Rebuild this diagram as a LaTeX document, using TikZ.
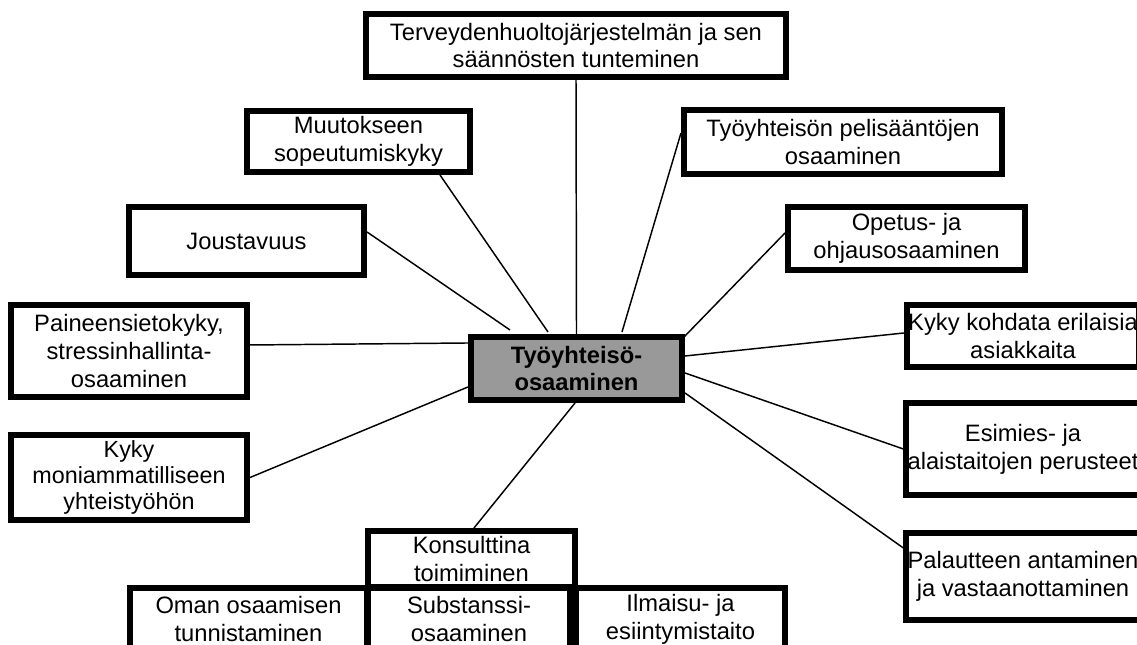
\documentclass[tikz,border=0pt]{standalone}
\usepackage{fontspec}
\setmainfont{Liberation Sans}
\usetikzlibrary{calc}
\definecolor{boxgray}{RGB}{153,153,153}
\begin{document}
\begin{tikzpicture}[x=0.75pt,y=-0.75pt,
  box/.style={draw, line width=4.3pt, fill=white, align=center, inner sep=1pt,
    font=\fontsize{17.8}{20.8}\selectfont},
  tight/.style={font=\fontsize{17.5}{19.6}\selectfont},
  sz/.style 2 args={minimum width={0.75*(#1-5.7)*1pt}, minimum height={0.75*(#2-5.7)*1pt}},
  hub/.style={box, fill=boxgray, font=\fontsize{17.8}{20.8}\selectfont\bfseries},
  link/.style={line width=1.1pt}]
\useasboundingbox (0,0) rectangle (1137,645);
\clip (0,0) rectangle (1137,645);

\node[box, sz={426}{69}] (ter) at (576,45.5) {Terveydenhuoltojärjestelmän ja sen\\säännösten tunteminen};
\node[box, sz={229}{67}] (mu) at (358.5,141.5) {Muutokseen\\sopeutumiskyky};
\node[box, sz={324}{70}] (tp) at (843,142) {Työyhteisön pelisääntöjen\\osaaminen};
\node[box, sz={241}{74}] (jo) at (246.5,241) {Joustavuus};
\node[box, sz={243}{69}] (op) at (906.5,238.5) {Opetus- ja\\ohjausosaaminen};
\node[box, sz={242}{98}] (pa) at (129,351) {Paineensietokyky,\\stressinhallinta-\\osaaminen};
\node[box, tight, sz={242}{91}] (km) at (129,477.5) {Kyky\\moniammatilliseen\\yhteistyöhön};
\node[hub, sz={217}{69}] (c) at (576.5,368.5) {Työyhteisö-\\osaaminen};
\node[box, sz={238}{68}] (kk) at (1023,336) {Kyky kohdata erilaisia\\asiakkaita};
\node[box, sz={238}{98}] (es) at (1023,449) {Esimies- ja\\alaistaitojen perusteet};
\node[box, sz={238}{93}] (pl) at (1023,576.5) {Palautteen antaminen\\ja vastaanottaminen};
\node[box, sz={243}{68}] (om) at (248.5,619) {Oman osaamisen\\tunnistaminen};
\node[box, sz={208}{68}] (su) at (469,619) {Substanssi-\\osaaminen};
\node[box, sz={215}{68}] (il) at (680.5,619) {Ilmaisu- ja\\esiintymistaito};
\node[box, sz={213}{62}] (ko) at (471.5,559) {Konsulttina\\toimiminen};

\draw[link] (ter.south) -- (c.north);
\draw[link] ($(mu.south east)+(-33,0)$) -- ($(c.north west)+(80,-2)$);
\draw[link] ($(tp.north west)+(0,26)$) -- ($(c.north west)+(154,-2)$);
\draw[link] ($(jo.north east)+(0,28)$) -- ($(c.north west)+(42,-4)$);
\draw[link] ($(op.north west)+(0,29)$) -- ($(c.north east)+(-1,3)$);
\draw[link] ($(pa.north east)+(0,43)$) -- ($(c.north west)+(0,9)$);
\draw[link] (km.east) -- ($(c.north west)+(0,53)$);
\draw[link] ($(kk.north west)+(0,31)$) -- ($(c.north east)+(0,22)$);
\draw[link] (es.west) -- ($(c.north east)+(0,39)$);
\draw[link] ($(pl.north west)+(0,18)$) -- ($(c.north east)+(0,59)$);
\draw[link] ($(ko.north west)+(109,0)$) -- ($(c.south west)+(107,0)$);
\end{tikzpicture}
\end{document}
